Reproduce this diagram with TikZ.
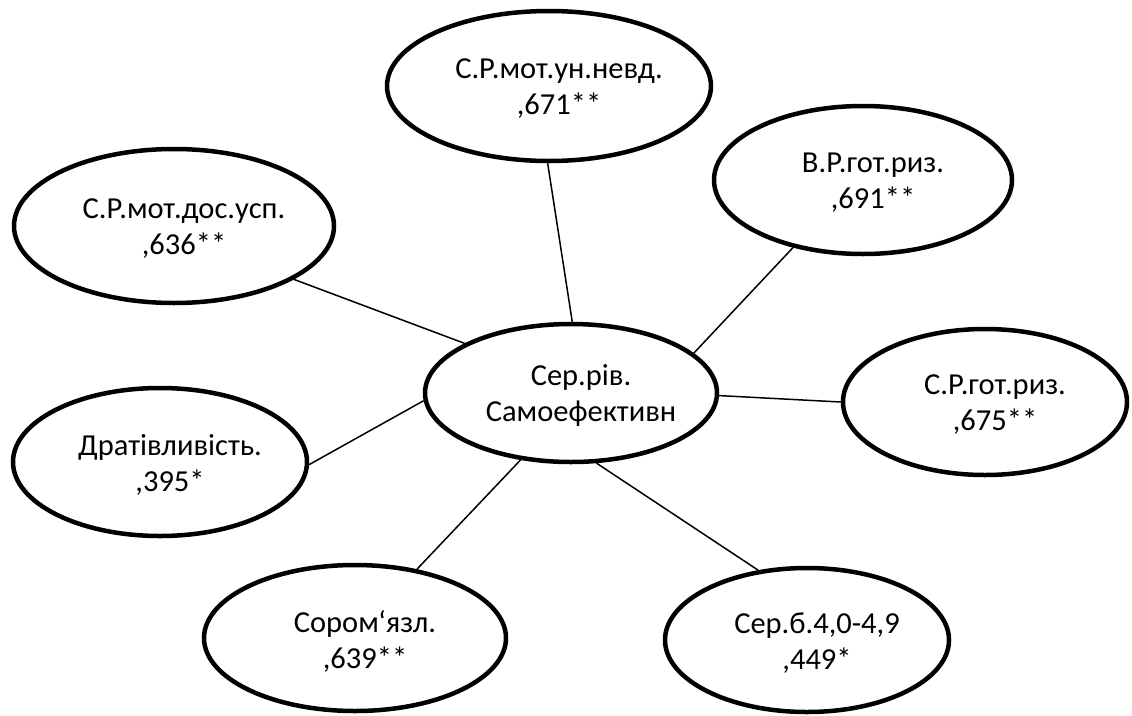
\documentclass[tikz,border=0pt]{standalone}
\usepackage{fontspec}
\setmainfont{Carlito}
\usetikzlibrary{shapes.geometric}
\begin{document}
\begin{tikzpicture}[x=1pt,y=-1pt,
  oval/.style={ellipse, draw, line width=4.5pt, inner sep=0pt},
  txt/.style={align=center, font=\fontsize{30.5}{36}\selectfont, xshift=10pt, yshift=-3pt},
  link/.style={line width=1.5pt}]
\useasboundingbox (0,0) rectangle (1132,715);
\node[oval, minimum width=292pt, minimum height=138pt, label={[txt]center:{Сер.рів.\\Самоефективн}}] (C) at (571,393) {};
\node[oval, minimum width=324pt, minimum height=150pt, label={[txt]center:{С.Р.мот.ун.невд.\\,671**}}] (T) at (549,86) {};
\node[oval, minimum width=298pt, minimum height=148pt, label={[txt]center:{В.Р.гот.риз.\\,691**}}] (TR) at (863,180) {};
\node[oval, minimum width=320pt, minimum height=154pt, label={[txt]center:{С.Р.мот.дос.усп.\\,636**}}] (LT) at (174,226) {};
\node[oval, minimum width=284pt, minimum height=146pt, label={[txt]center:{С.Р.гот.риз.\\,675**}}] (R) at (985,402) {};
\node[oval, minimum width=294pt, minimum height=148pt, label={[txt]center:{Дратівливість.\\,395*}}] (L) at (160,462) {};
\node[oval, minimum width=302pt, minimum height=146pt, label={[txt]center:{Сором‘язл.\\,639**}}] (BL) at (355,638) {};
\node[oval, minimum width=284pt, minimum height=144pt, label={[txt]center:{Сер.б.4,0-4,9\\,449*}}] (BR) at (807,640) {};
\draw[link] (C.89) -- (T.269);
\draw[link] (C.18) -- (TR.224);
\draw[link] (C.155) -- (LT.-24);
\draw[link] (C.-1.5) -- (R.180);
\draw[link] (C.183) -- (L.-1);
\draw[link] (C.233) -- (BL.48);
\draw[link] (C.-70) -- (BR.125);
\end{tikzpicture}
\end{document}
